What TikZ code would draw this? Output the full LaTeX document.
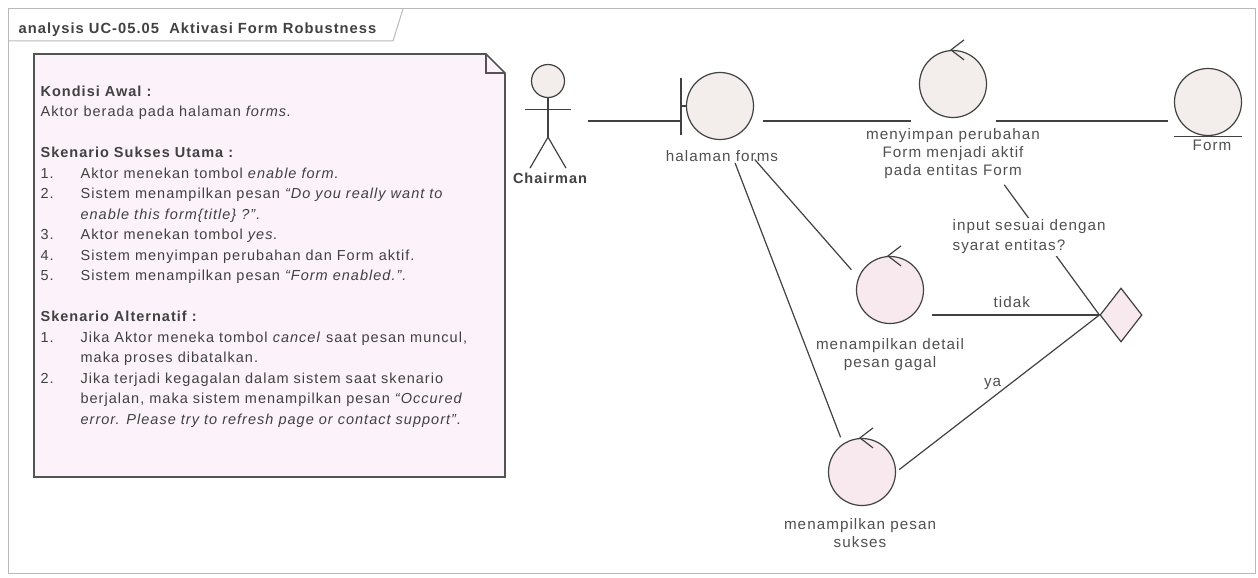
\documentclass[tikz,border=0pt]{standalone}
\usepackage{fontspec}
\setmainfont{Liberation Sans}
\newfontfamily\eafont[LetterSpace=7]{Liberation Sans}
\usetikzlibrary{shapes.geometric,fit}
\definecolor{ealine}{RGB}{65,65,65}
\definecolor{eatext}{RGB}{80,80,80}
\definecolor{notepink}{RGB}{251,242,250}
\definecolor{entbeige}{RGB}{243,238,235}
\definecolor{ctlpink}{RGB}{247,233,238}
\definecolor{framegray}{RGB}{185,185,185}
\newcommand\itemno[1]{\makebox[40pt][l]{#1}}

\begin{document}
\begin{tikzpicture}[x=1pt,y=-1pt,line width=1.2pt,
    robust/.style={circle,draw=ealine,fill=entbeige,minimum size=67pt,inner sep=0pt},
    lbl/.style={font={\eafont\fontsize{15.2}{18}\selectfont},text=eatext,align=center,inner sep=0pt},
    wire/.style={draw=ealine,line width=1.2pt},
    hull/.style={inner sep=0pt}]
    \useasboundingbox (0,0) rectangle (1258,578);
    \fill[white] (0,0) rectangle (1258,578);
    \draw[framegray,line width=1pt] (8,9) rectangle (1255,573);
    \draw[framegray,line width=1pt] (8,41) -- (393,41) -- (403,9);
    \node[anchor=base west,inner sep=0pt,text=ealine,
      font={\eafont\bfseries\fontsize{14.7}{16}\selectfont}] (title) at (18,34)
      {analysis UC-05.05\ \ Aktivasi Form Robustness};
    \draw[draw=ealine!90,fill=notepink,line width=1.6pt]
      (34,54) -- (486,54) -- (505,73) -- (505,477) -- (34,477) -- cycle;
    \draw[ealine!90,line width=1.2pt] (486,54) -- (486,73) -- (505,73);
    \node[anchor=north west,align=left,inner sep=0pt,text=ealine,
      font={\eafont\fontsize{14.5}{20.5}\selectfont}] (note) at (40,85)
      {\textbf{Kondisi Awal :}\\
       Aktor berada pada halaman \textit{forms.}\\[20.5pt]
       \textbf{Skenario Sukses Utama :}\\
       \itemno{1.}Aktor menekan tombol \textit{enable form.}\\
       \itemno{2.}Sistem menampilkan pesan \textit{“Do you really want to}\\
       \hspace*{40pt}\textit{enable this form\{title\} ?”.}\\
       \itemno{3.}Aktor menekan tombol \textit{yes.}\\
       \itemno{4.}Sistem menyimpan perubahan dan Form aktif.\\
       \itemno{5.}Sistem menampilkan pesan \textit{“Form enabled.”.}\\[20.5pt]
       \textbf{Skenario Alternatif :}\\
       \itemno{1.}Jika Aktor meneka tombol \textit{cancel} saat pesan muncul,\\
       \hspace*{40pt}maka proses dibatalkan.\\
       \itemno{2.}Jika terjadi kegagalan dalam sistem saat skenario\\
       \hspace*{40pt}berjalan, maka sistem menampilkan pesan \textit{“Occured}\\
       \hspace*{40pt}\textit{error. Please try to refresh page or contact support”.}};
    \node[robust,minimum size=33pt] (chair) at (548,81) {};
    \draw[wire] (chair.south) -- ++(0,39) coordinate (hip);
    \draw[wire] (chair.south) ++(-23,11) -- ++(46,0);
    \draw[wire] (hip) ++(-18,31) -- (hip) -- ++(18,31);
    \node[lbl,font={\eafont\bfseries\fontsize{14.5}{16}\selectfont},text=ealine] (chairlbl) at (550,178) {Chairman};
    \node[hull,fit=(chair)(chairlbl)] (chairall) {};
    \node[robust] (hf) at (720,106) {};
    \draw[wire] (hf.west) -- ++(-5,0) coordinate (hfbar);
    \draw[wire] ([yshift=28pt]hfbar) -- ([yshift=-29pt]hfbar);
    \node[lbl,anchor=north] (hflbl) at (722,150) {halaman forms};
    \node[robust] (save) at (953,84) {};
    \node[lbl,anchor=north] (savelbl) at (953,128) {menyimpan perubahan\\Form menjadi aktif\\pada entitas Form};
    \node[robust] (form) at (1208,102) {};
    \draw[wire] (form.south -| form.west) -- (form.south -| form.east);
    \node[lbl,anchor=north] (formlbl) at (1212,139) {Form};
    \node[robust,fill=ctlpink] (det) at (890,290) {};
    \node[lbl,anchor=north] (detlbl) at (890,338) {menampilkan detail\\pesan gagal};
    \node[robust,fill=ctlpink] (suk) at (862,472) {};
    \node[lbl,anchor=north] (suklbl) at (860,518) {menampilkan pesan\\sukses};
    \node[diamond,aspect=0.78,draw=ealine,fill=ctlpink,minimum width=42pt,minimum height=54pt,inner sep=0pt] (dec) at (1121,315) {};
    \foreach \c in {save,det,suk}
      \draw[wire] ([xshift=11pt,yshift=10pt]\c.north) -- ([xshift=-2pt]\c.north) -- ([xshift=11pt,yshift=-10pt]\c.north);
    \node[hull,fit=(hfbar)(hf)(hflbl.south)] (hfall) {};
    \node[hull,fit=(save)(savelbl)] (saveall) {};
    \node[hull,fit=(det)(detlbl.south)] (detall) {};
    \node[hull,fit=(suk)(suklbl.south)] (sukall) {};
    \coordinate (row) at (0,121);
    \draw[wire] (chairall.east |- row) -- (hfbar |- row);
    \draw[wire,shorten <=9pt,shorten >=8pt] (hf.east |- row) -- (save.west |- row);
    \draw[wire,shorten <=9pt,shorten >=6pt] (save.east |- row) -- (form.west |- row);
    \draw[wire] (hfall) -- (sukall);
    \draw[wire,shorten >=6pt] (hfall) -- (detall);
    \draw[wire,shorten <=8pt] (det.east |- dec.west) -- (dec.west) node[lbl,pos=0.5,above=7pt] {tidak};
    \draw[wire,shorten <=4pt] (suk.east) -- (dec.west) node[lbl,pos=0.5,anchor=south east,xshift=4pt,yshift=3pt] {ya};
    \draw[wire,shorten <=6pt] (saveall) -- (dec.west)
      node[lbl,pos=0.42,xshift=-13pt,fill=white,align=left,inner sep=2pt,
        font={\eafont\fontsize{15.2}{20}\selectfont}] {input sesuai dengan\\syarat entitas?};
  \end{tikzpicture}
\end{document}
